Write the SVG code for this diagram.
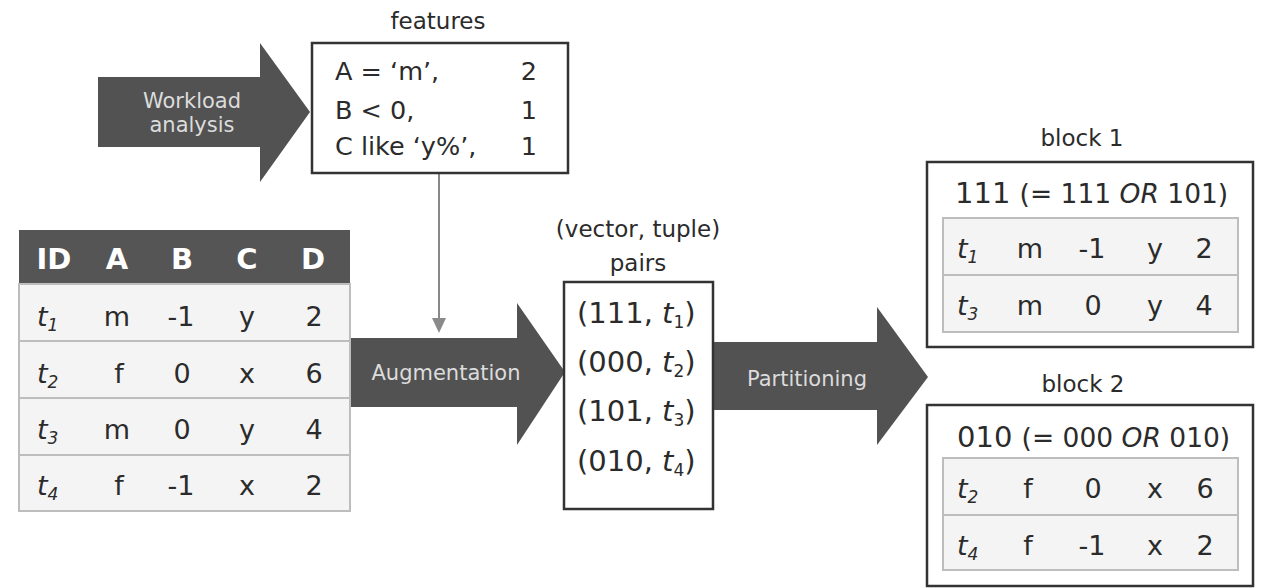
<svg xmlns="http://www.w3.org/2000/svg" width="1261" height="588" viewBox="0 0 1261 588">
<style>
text{font-family:"DejaVu Sans","Liberation Sans",sans-serif;fill:#2b2b2b}
.big{font-size:25.5px}
.lbl{font-size:23px}
.arrowtxt{font-size:21px;fill:#dcdcdc;text-anchor:middle}
.hdr{font-size:29px;font-weight:bold;fill:#fff;text-anchor:middle}
.cell{font-size:27px;text-anchor:middle}
.tid{font-size:27px;font-style:italic}
.sub{font-size:17px}
.pair{font-size:29px}
.arrow{fill:#525252}
.box{fill:#fff;stroke:#333;stroke-width:2.5}
.row{fill:#f4f4f4;stroke:#bdbdbd;stroke-width:2}
</style>
<rect width="1261" height="588" fill="#fff"/>

<g id="connectors">
  <polygon id="arrow-workload" class="arrow" points="98,77 260,77 260,43 310,112 260,182 260,147 98,147"/>
  <polygon id="arrow-augmentation" class="arrow" points="348,338 517,338 517,303 565,372 517,445 517,407 348,407"/>
  <polygon id="arrow-partitioning" class="arrow" points="713,342 877,342 877,307 928,377 877,445 877,410 713,410"/>
  <line x1="439" y1="173" x2="439" y2="320" stroke="#888" stroke-width="2"/>
  <polygon points="432,318 446,318 439,333" fill="#8a8a8a"/>
  <text class="arrowtxt" x="192" y="108">Workload</text>
  <text class="arrowtxt" x="192" y="132">analysis</text>
  <text class="arrowtxt" x="446" y="380">Augmentation</text>
  <text class="arrowtxt" x="807" y="386">Partitioning</text>
</g>

<g id="features">
  <text class="lbl" x="438" y="29" text-anchor="middle">features</text>
  <rect class="box" x="312" y="43" width="256" height="130"/>
  <text class="big" x="335" y="80">A = ‘m’,</text>
  <text class="big" x="537" y="80" text-anchor="end">2</text>
  <text class="big" x="335" y="119">B &lt; 0,</text>
  <text class="big" x="537" y="119" text-anchor="end">1</text>
  <text class="big" x="335" y="155">C like ‘y%’,</text>
  <text class="big" x="537" y="155" text-anchor="end">1</text>
</g>

<g id="table">
  <rect x="19" y="230" width="331" height="54" fill="#555"/>
  <rect class="row" x="19" y="284" width="331" height="57"/>
  <rect class="row" x="19" y="341" width="331" height="57"/>
  <rect class="row" x="19" y="398" width="331" height="57"/>
  <rect class="row" x="19" y="455" width="331" height="56"/>
  <text class="hdr" x="54" y="269">ID</text>
  <text class="hdr" x="117" y="269">A</text>
  <text class="hdr" x="182" y="269">B</text>
  <text class="hdr" x="247" y="269">C</text>
  <text class="hdr" x="313" y="269">D</text>
  <text class="tid" x="37" y="326">t<tspan class="sub" dy="5">1</tspan></text>
  <text class="cell" x="117" y="326">m</text><text class="cell" x="181" y="326">-1</text><text class="cell" x="247" y="326">y</text><text class="cell" x="314" y="326">2</text>
  <text class="tid" x="37" y="383">t<tspan class="sub" dy="5">2</tspan></text>
  <text class="cell" x="119" y="383">f</text><text class="cell" x="182" y="383">0</text><text class="cell" x="247" y="383">x</text><text class="cell" x="314" y="383">6</text>
  <text class="tid" x="37" y="439">t<tspan class="sub" dy="5">3</tspan></text>
  <text class="cell" x="117" y="439">m</text><text class="cell" x="182" y="439">0</text><text class="cell" x="247" y="439">y</text><text class="cell" x="314" y="439">4</text>
  <text class="tid" x="37" y="495">t<tspan class="sub" dy="5">4</tspan></text>
  <text class="cell" x="119" y="495">f</text><text class="cell" x="181" y="495">-1</text><text class="cell" x="247" y="495">x</text><text class="cell" x="314" y="495">2</text>
</g>

<g id="pairs">
  <text class="lbl" x="638" y="237" text-anchor="middle">(vector, tuple)</text>
  <text class="lbl" x="638" y="271" text-anchor="middle">pairs</text>
  <rect class="box" x="564" y="282" width="149" height="227" stroke-width="2"/>
  <text class="pair" x="577" y="323">(111, <tspan font-style="italic">t</tspan><tspan class="sub" dy="5">1</tspan><tspan dy="-5">)</tspan></text>
  <text class="pair" x="577" y="372">(000, <tspan font-style="italic">t</tspan><tspan class="sub" dy="5">2</tspan><tspan dy="-5">)</tspan></text>
  <text class="pair" x="577" y="421">(101, <tspan font-style="italic">t</tspan><tspan class="sub" dy="5">3</tspan><tspan dy="-5">)</tspan></text>
  <text class="pair" x="577" y="471">(010, <tspan font-style="italic">t</tspan><tspan class="sub" dy="5">4</tspan><tspan dy="-5">)</tspan></text>
</g>

<g id="block1">
  <text class="lbl" x="1082" y="146" text-anchor="middle">block 1</text>
  <rect class="box" x="927" y="162" width="326" height="185" stroke-width="3"/>
  <text class="pair" x="955" y="203">111 <tspan font-size="26.5px">(= 111 <tspan font-style="italic">OR</tspan> 101)</tspan></text>
  <rect class="row" x="943" y="218" width="295" height="57"/>
  <rect class="row" x="943" y="275" width="295" height="57"/>
  <text class="tid" x="957" y="258">t<tspan class="sub" dy="5">1</tspan></text>
  <text class="cell" x="1030" y="258">m</text><text class="cell" x="1092" y="258">-1</text><text class="cell" x="1155" y="258">y</text><text class="cell" x="1204" y="258">2</text>
  <text class="tid" x="957" y="315">t<tspan class="sub" dy="5">3</tspan></text>
  <text class="cell" x="1030" y="315">m</text><text class="cell" x="1093" y="315">0</text><text class="cell" x="1155" y="315">y</text><text class="cell" x="1204" y="315">4</text>
</g>

<g id="block2">
  <text class="lbl" x="1083" y="392" text-anchor="middle">block 2</text>
  <rect class="box" x="927" y="405" width="326" height="181" stroke-width="3"/>
  <text class="pair" x="957" y="447">010 <tspan font-size="26.5px">(= 000 <tspan font-style="italic">OR</tspan> 010)</tspan></text>
  <rect class="row" x="943" y="458" width="295" height="57"/>
  <rect class="row" x="943" y="515" width="295" height="55"/>
  <text class="tid" x="957" y="498">t<tspan class="sub" dy="5">2</tspan></text>
  <text class="cell" x="1028" y="498">f</text><text class="cell" x="1093" y="498">0</text><text class="cell" x="1155" y="498">x</text><text class="cell" x="1205" y="498">6</text>
  <text class="tid" x="957" y="555">t<tspan class="sub" dy="5">4</tspan></text>
  <text class="cell" x="1028" y="555">f</text><text class="cell" x="1092" y="555">-1</text><text class="cell" x="1155" y="555">x</text><text class="cell" x="1205" y="555">2</text>
</g>
</svg>
